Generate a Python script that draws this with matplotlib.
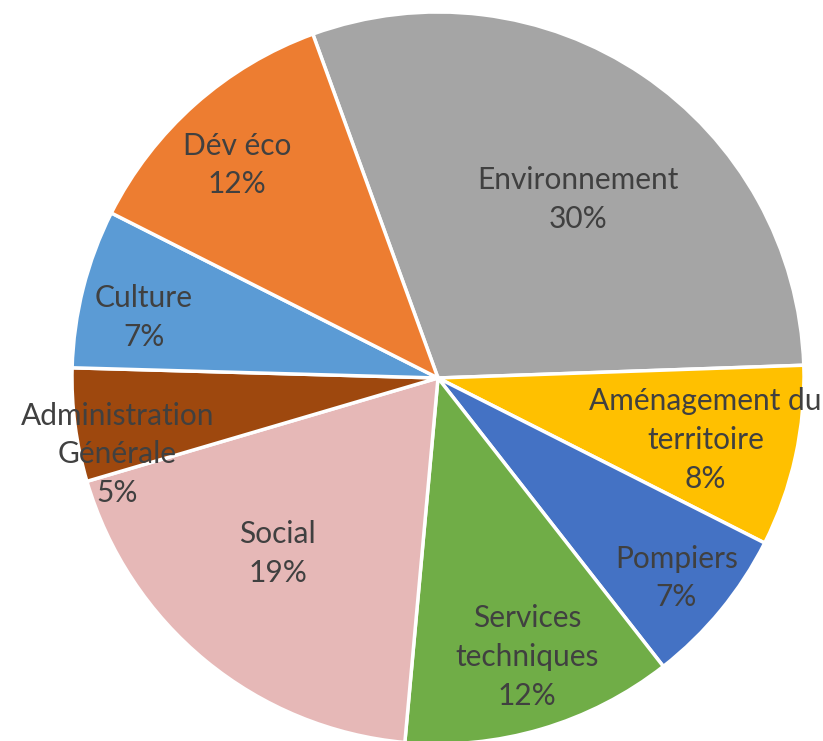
import matplotlib.pyplot as plt
import numpy as np

# budget share by department (percent)
categories = ["Environnement", "Aménagement du\nterritoire", "Pompiers",
              "Services\ntechniques", "Social", "Administration\nGénérale",
              "Culture", "Dév éco"]
shares = [30, 8, 7, 12, 19, 5, 7, 12]
colors = ["#A5A5A5", "#FFC000", "#4472C4", "#70AD47", "#E6B8B7",
          "#9E480E", "#5B9BD5", "#ED7D31"]
# label placement: fraction of radius and angular nudge (degrees) from the wedge middle
label_dist = [0.62, 0.75, 0.85, 0.80, 0.65, 0.90, 0.82, 0.80]
label_nudge = [-4, -0.6, -0.6, 1.3, -3, 6.0, 2.6, 1.7]

fig = plt.figure(figsize=(8.23, 7.41), dpi=100)
ax = fig.add_axes([0, 0, 1, 1])
ax.set_aspect("equal")
ax.axis("off")

wedges, _ = ax.pie(shares, colors=colors, startangle=110, counterclock=False,
                   radius=1.0, center=(0, 0),
                   wedgeprops=dict(edgecolor="white", linewidth=2.5))

ax.set_xlim(-438 / 366, (823 - 438) / 366)
ax.set_ylim(-(741 - 378) / 366, 378 / 366)

for w, name, val, d, nudge in zip(wedges, categories, shares, label_dist, label_nudge):
    mid = np.deg2rad((w.theta1 + w.theta2) / 2 + nudge)
    ax.text(d * np.cos(mid), d * np.sin(mid), f"{name}\n{val:.0f}%",
            ha="center", va="center", fontsize=21.5, family="Lato",
            color="#404040", linespacing=1.47)

fig.savefig("out.png", dpi=100)
